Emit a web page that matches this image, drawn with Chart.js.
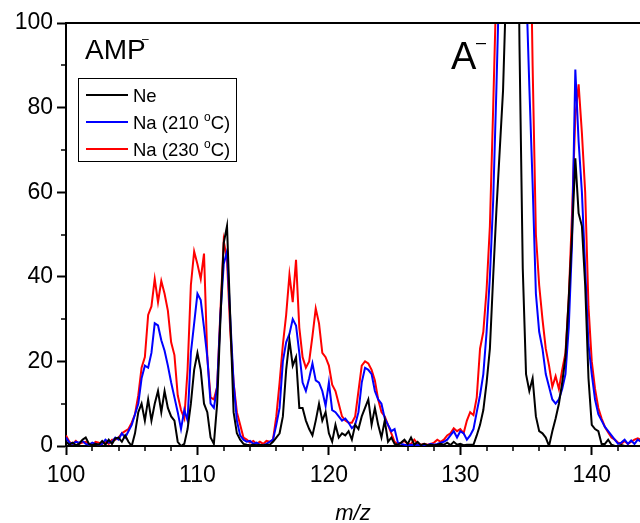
<!DOCTYPE html>
<html>
<head>
<meta charset="utf-8">
<script src="https://cdn.jsdelivr.net/npm/chart.js@4.4.0/dist/chart.umd.min.js"></script>
<style>
body { margin: 0; background: #fff; }
#wrap { width: 640px; height: 523px; }
</style>
</head>
<body>
<div id="wrap"><canvas id="myChart" width="640" height="523"></canvas></div>
<script>
// m/z grid, one row = 2 units
const mz = [
100, 100.25, 100.5, 100.75, 101, 101.25, 101.5, 101.75,
102, 102.25, 102.5, 102.75, 103, 103.25, 103.5, 103.75,
104, 104.25, 104.5, 104.75, 105, 105.25, 105.5, 105.75,
106, 106.25, 106.5, 106.75, 107, 107.25, 107.5, 107.75,
108, 108.25, 108.5, 108.75, 109, 109.25, 109.5, 109.75,
110, 110.25, 110.5, 110.75, 111, 111.25, 111.5, 111.75,
112, 112.25, 112.5, 112.75, 113, 113.25, 113.5, 113.75,
114, 114.25, 114.5, 114.75, 115, 115.25, 115.5, 115.75,
116, 116.25, 116.5, 116.75, 117, 117.25, 117.5, 117.75,
118, 118.25, 118.5, 118.75, 119, 119.25, 119.5, 119.75,
120, 120.25, 120.5, 120.75, 121, 121.25, 121.5, 121.75,
122, 122.25, 122.5, 122.75, 123, 123.25, 123.5, 123.75,
124, 124.25, 124.5, 124.75, 125, 125.25, 125.5, 125.75,
126, 126.25, 126.5, 126.75, 127, 127.25, 127.5, 127.75,
128, 128.25, 128.5, 128.75, 129, 129.25, 129.5, 129.75,
130, 130.25, 130.5, 130.75, 131, 131.25, 131.5, 131.75,
132, 132.25, 132.5, 132.75, 133, 133.25, 133.5, 133.75,
134, 134.25, 134.5, 134.75, 135, 135.25, 135.5, 135.75,
136, 136.25, 136.5, 136.75, 137, 137.25, 137.5, 137.75,
138, 138.25, 138.5, 138.75, 139, 139.25, 139.5, 139.75,
140, 140.25, 140.5, 140.75, 141, 141.25, 141.5, 141.75,
142, 142.25, 142.5, 142.75, 143, 143.25, 143.5, 143.75
];

const neVals = [
1.0, 0.3, 0.8, 0.2, 0.5, 1.5, 2.0, 0.5,
0.2, 0.5, 0.3, 1.2, 0.3, 1.5, 0.5, 1.8,
2.0, 1.0, 2.5, 1.0, 0.0, 3.0, 8.0, 10.0,
6.0, 11.0, 6.0, 10.0, 13.0, 8.0, 13.0, 9.0,
7.0, 6.0, 1.0, 0.0, 0.5, 4.0, 10.0, 18.0,
22.0, 18.0, 10.0, 8.0, 2.0, 0.5, 10.0, 30.0,
48.0, 52.0, 30.0, 8.0, 3.0, 1.5, 0.5, 0.3,
0.2, 0.3, 0.2, 0.3, 0.2, 0.3, 0.3, 1.0,
2.0, 3.0, 7.0, 18.0, 25.0, 19.0, 21.0, 9.0,
9.0, 6.0, 4.0, 2.5, 6.0, 10.0, 6.0, 8.0,
3.0, 1.0, 5.0, 2.0, 3.0, 2.5, 3.5, 1.5,
5.0, 4.0, 7.0, 9.0, 11.0, 5.0, 9.0, 5.0,
2.0, 6.0, 1.0, 2.0, 0.5, 0.3, 0.8, 1.5,
0.5, 2.0, 0.3, 1.0, 0.2, 0.5, 0.2, 0.3,
0.2, 0.3, 0.5, 0.3, 0.8, 0.2, 1.0, 0.3,
0.5, 0.2, 0.3, 0.3, 0.3, 2.5, 5.0, 8.5,
15, 23, 40, 56, 70, 84, 110, 200,
250, 170, 95, 42, 17, 13, 16, 7,
3.5, 3, 2, 0, 3.5, 6.5, 10, 15,
21, 35, 50, 68, 55, 52, 38, 16,
5, 4, 3.5, 0.5, 0.5, 1.5, 0.3, 0,
0, 0.2, 0, 0, 0, 0, 0, 0
];

const na210Vals = [
2.0, 0.8, 0.5, 1.0, 0.8, 1.2, 0.5, 0.3,
0.8, 0.5, 0.3, 0.5, 1.5, 0.8, 1.0, 2.0,
1.5, 3.0, 2.0, 3.5, 5.0, 7.5, 10.0, 16.0,
19.0, 18.5, 22.0, 29.0, 28.5, 25.0, 22.5, 19.0,
15.0, 11.5, 8.0, 4.0, 8.5, 6.0, 22.0, 29.0,
36.0, 34.5, 28.0, 21.0, 10.0, 9.0, 14.0, 31.0,
43.0, 46.0, 30.0, 15.0, 6.0, 2.5, 1.5, 1.0,
1.2, 0.5, 0.8, 0.3, 0.2, 0.5, 1.0, 1.5,
5.0, 9.0, 20.0, 24.5, 26.5, 30.0, 28.5, 22.0,
15.0, 13.0, 16.0, 19.5, 15.5, 15.0, 13.0, 9.5,
15.0, 8.5, 8.0, 7.0, 6.0, 6.5, 5.5, 4.2,
5.0, 8.0, 15.0, 18.5, 18.0, 17.0, 13.0, 11.0,
10.0, 6.5, 5.0, 3.5, 4.0, 0.8, 0.5, 0.3,
0.2, 0.3, 0.2, 0.3, 0.2, 0.3, 0.2, 0.5,
0.3, 0.5, 0.8, 1.0, 1.5, 2.5, 3.5, 2.0,
3.5, 3.0, 1.5, 2.5, 4.0, 8.0, 12.0, 17.0,
27, 40, 58, 85, 115, 200, 300, 400,
450, 400, 300, 180, 110, 85, 62, 36,
27, 23, 17, 14, 11, 10, 11, 13.5,
17, 28, 48, 89, 72, 60, 42, 24,
17, 11, 7.5, 6, 4.5, 3.5, 2.5, 1.5,
0.5, 0.8, 1.5, 0.5, 1.3, 0.5, 1.5, 1.0
];

const na230Vals = [
2.5, 1.0, 0.5, 1.2, 0.5, 0.8, 1.0, 0.5,
0.3, 1.0, 0.8, 0.5, 1.0, 0.5, 1.5, 1.5,
2.0, 3.0, 3.5, 4.0, 5.5, 7.5, 12.0, 18.5,
21.0, 31.0, 33.0, 39.5, 34.0, 39.0, 36.0, 32.0,
24.5, 21.5, 12.0, 8.5, 6.5, 18.0, 38.0, 46.0,
43.0, 39.5, 45.5, 21.0, 11.5, 11.0, 14.0, 32.0,
48.5, 44.0, 27.0, 15.0, 8.0, 5.0, 2.0, 1.5,
0.8, 1.2, 0.5, 1.0, 0.5, 1.2, 1.0, 1.5,
7.0, 15.0, 24.0, 31.0, 40.5, 34.0, 44.0, 28.0,
21.0, 18.5, 20.0, 26.0, 32.5, 29.0, 22.0, 21.0,
19.0, 14.5, 13.0, 10.0, 7.0, 6.0, 5.5, 5.5,
7.0, 13.0, 19.0, 20.0, 19.5, 18.0, 15.5, 11.0,
8.0, 7.0, 5.0, 3.0, 1.0, 0.5, 0.8, 1.2,
0.5, 0.5, 1.5, 0.5, 0.3, 0.5, 0.3, 0.5,
0.8, 1.5, 1.0, 1.5, 2.5, 3.0, 4.2, 3.5,
4.0, 3.0, 6.0, 8.0, 7.3, 11.5, 23.0, 27.0,
37, 52, 80, 110, 200, 300, 400, 450,
450, 400, 350, 250, 190, 140, 90, 50,
38, 30, 23, 19, 14, 16.5, 13.5, 18,
22, 35, 55, 78, 85.5, 74, 60, 33,
20, 13.5, 9, 6.5, 4.5, 3.2, 2.0, 1.5,
0.8, 0.5, 1.2, 0.5, 1.0, 1.5, 1.8, 1.5
];

const seriesNames = ["Ne", "Na (210 °C)", "Na (230 °C)"];
const seriesColors = ["#000000", "#0000ff", "#ff0000"];
const xMinorTicks = [102, 104, 106, 108, 112, 114, 116, 118, 122, 124, 126, 128, 132, 134, 136, 138, 142];
const yMinorTicks = [10, 30, 50, 70, 90];

const fontFam = "'Liberation Sans', Arial, sans-serif";

function toPoints(vals) {
	return vals.map(function(v, i){ return {x: mz[i], y: v}; });
}

const extras = {
	id: "extras",
	afterDraw: function(chart) {
		const ctx = chart.ctx;
		const area = chart.chartArea;
		const xs = chart.scales.x;
		const ys = chart.scales.y;
		ctx.save();
		ctx.strokeStyle = "#000";
		ctx.fillStyle = "#000";

		// top frame line
		ctx.lineWidth = 2;
		ctx.beginPath();
		ctx.moveTo(area.left, area.top);
		ctx.lineTo(chart.width, area.top);
		ctx.stroke();

		// minor ticks
		ctx.lineWidth = 1.5;
		ctx.beginPath();
		for (let v of xMinorTicks) {
			const px = Math.round(xs.getPixelForValue(v));
			ctx.moveTo(px, area.bottom);
			ctx.lineTo(px, area.bottom + 5);
		}
		for (let v of yMinorTicks) {
			const py = Math.round(ys.getPixelForValue(v));
			ctx.moveTo(area.left, py);
			ctx.lineTo(area.left - 5, py);
		}
		ctx.stroke();

		// annotations
		ctx.textBaseline = "alphabetic";
		ctx.textAlign = "left";
		ctx.font = "28px " + fontFam;
		ctx.fillText("AMP", 85, 59);
		ctx.font = "12px " + fontFam;
		ctx.fillText("\u2013", 142, 43);
		ctx.font = "38px " + fontFam;
		ctx.fillText("A", 451, 69);
		ctx.font = "18px " + fontFam;
		ctx.fillText("\u2013", 476, 48);

		// legend
		ctx.lineWidth = 1;
		ctx.strokeRect(78.5, 78.5, 158, 83);
		const rowY = [95, 122, 149];
		for (let i = 0; i < seriesNames.length; i++) {
			ctx.strokeStyle = seriesColors[i];
			ctx.lineWidth = 2;
			ctx.beginPath();
			ctx.moveTo(86, rowY[i]);
			ctx.lineTo(128, rowY[i]);
			ctx.stroke();
			const parts = seriesNames[i].split("\u00b0");
			let tx = 133;
			const base = rowY[i] + 6.5;
			ctx.font = "18.5px " + fontFam;
			ctx.fillText(parts[0], tx, base);
			if (parts.length > 1) {
				tx += ctx.measureText(parts[0]).width;
				ctx.font = "12px " + fontFam;
				ctx.fillText("o", tx, base - 8);
				tx += ctx.measureText("o").width;
				ctx.font = "18.5px " + fontFam;
				ctx.fillText(parts[1], tx, base);
			}
		}
		ctx.restore();
	}
};

new Chart("myChart", {
	type: "line",
	data: {
		datasets: [{
			label: seriesNames[0],
			data: toPoints(neVals),
			borderColor: seriesColors[0]
		}, {
			label: seriesNames[1],
			data: toPoints(na210Vals),
			borderColor: seriesColors[1]
		}, {
			label: seriesNames[2],
			data: toPoints(na230Vals),
			borderColor: seriesColors[2]
		}]
	},
	options: {
		responsive: false,
		animation: false,
		layout: { padding: { top: 23, right: 0, left: 0, bottom: 0 } },
		elements: {
			point: { radius: 0 },
			line: { borderWidth: 2, tension: 0 }
		},
		plugins: {
			legend: { display: false },
			tooltip: { enabled: false }
		},
		scales: {
			x: {
				type: "linear",
				min: 100,
				max: 143.67,
				afterFit: function(scale){ scale.height = 77; },
				ticks: {
					stepSize: 10,
					includeBounds: false,
					color: "#000",
					padding: 7,
					maxRotation: 0,
					font: { family: fontFam, size: 23 }
				},
				grid: {
					drawOnChartArea: false,
					tickLength: 9,
					tickWidth: 2,
					tickColor: "#000"
				},
				border: { display: true, color: "#000", width: 2 },
				title: {
					display: true,
					text: "m/z",
					color: "#000",
					padding: { top: 0, bottom: 0 },
					font: { family: fontFam, size: 22, style: "italic", lineHeight: 0.85 }
				}
			},
			y: {
				min: 0,
				max: 100,
				afterFit: function(scale){ scale.width = 66; },
				ticks: {
					stepSize: 20,
					color: "#000",
					padding: 4,
					font: { family: fontFam, size: 23 }
				},
				grid: {
					drawOnChartArea: false,
					tickLength: 9,
					tickWidth: 2,
					tickColor: "#000"
				},
				border: { display: true, color: "#000", width: 2 }
			}
		}
	},
	plugins: [extras]
});
</script>
</body>
</html>
